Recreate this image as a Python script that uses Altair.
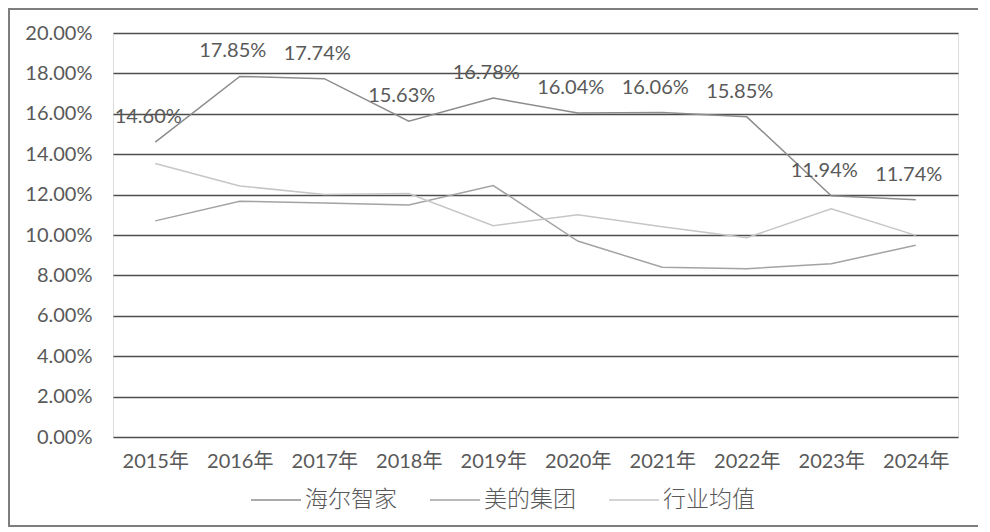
import altair as alt
import pandas as pd

years = ["2015年", "2016年", "2017年", "2018年", "2019年", "2020年", "2021年", "2022年", "2023年", "2024年"]
series_names = ["海尔智家", "美的集团", "行业均值"]
haier = [0.1460, 0.1785, 0.1774, 0.1563, 0.1678, 0.1604, 0.1606, 0.1585, 0.1194, 0.1174]
midea = [0.1070, 0.1167, 0.1158, 0.1148, 0.1245, 0.0970, 0.0840, 0.0833, 0.0858, 0.0949]
industry = [0.1354, 0.1243, 0.1200, 0.1205, 0.1046, 0.1100, 0.1041, 0.0986, 0.1130, 0.0998]
colors = ["#8c8c8c", "#a3a3a3", "#c6c6c6"]

rows = []
for name, vals in zip(series_names, [haier, midea, industry]):
    for y, v in zip(years, vals):
        rows.append({"year": y, "series": name, "value": v})
df = pd.DataFrame(rows)
label_df = pd.DataFrame({"year": years, "value": haier})

FONT = "Lato, Noto Sans CJK SC"
CJK = "Noto Sans CJK SC"
TXT = "#595959"

x_enc = alt.X("year:N", sort=years, title=None,
              scale=alt.Scale(type="point", padding=0.5),
              axis=alt.Axis(labelFontSize=20, labelColor=TXT, labelFont=FONT,
                            labelPadding=14, ticks=False, domain=False, labelAngle=0))
y_scale = alt.Scale(domain=[0, 0.2], nice=False)

lines = alt.Chart(df).mark_line(strokeWidth=1.5).encode(
    x=x_enc,
    y=alt.Y("value:Q", scale=y_scale, title=None,
            axis=alt.Axis(format=".2%", values=[i / 50 for i in range(11)],
                          labelFontSize=20, labelColor=TXT, labelFont=FONT,
                          labelPadding=21, ticks=False, domain=False,
                          grid=True, gridColor="#4d4d4d", gridWidth=1.6)),
    color=alt.Color("series:N", sort=series_names,
                    scale=alt.Scale(domain=series_names, range=colors),
                    legend=alt.Legend(title=None, orient="none", direction="horizontal",
                                      legendX=137, legendY=441,
                                      symbolType="stroke", symbolSize=2500,
                                      symbolStrokeWidth=1.5, columnPadding=30,
                                      labelFontSize=23, labelColor=TXT,
                                      labelFont=CJK, labelFontWeight=300, labelOffset=3)),
)

labels = alt.Chart(label_df).mark_text(
    dy=-25, dx=-7, baseline="middle", fontSize=20, color=TXT, font=FONT
).encode(
    x=alt.X("year:N", sort=years, scale=alt.Scale(type="point", padding=0.5)),
    y=alt.Y("value:Q", scale=y_scale),
    text=alt.Text("value:Q", format=".2%"),
)

frame = alt.Chart(label_df).mark_rect(
    fill=None, stroke="#7f7f7f", strokeWidth=1.5
).encode(
    x=alt.value(-104), x2=alt.value(870), y=alt.value(-24), y2=alt.value(493)
)

chart = alt.layer(frame, lines, labels).properties(
    width=845, height=404,
    autosize=alt.AutoSizeParams(type="none"),
    padding={"left": 105, "top": 25, "right": 20, "bottom": 90},
).configure_view(stroke=None).configure(background="white")

chart.save("out.html", embed_options={"renderer": "svg", "actions": False})
